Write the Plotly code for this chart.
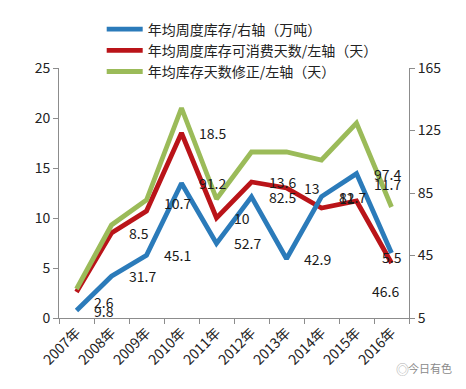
import plotly.graph_objects as go

years = ["2007年", "2008年", "2009年", "2010年", "2011年", "2012年", "2013年", "2014年", "2015年", "2016年"]
weekly_stock = [9.8, 31.7, 45.1, 91.2, 52.7, 82.5, 42.9, 82.7, 97.4, 46.6]        # right axis
consume_days = [2.6, 8.5, 10.7, 18.5, 10, 13.6, 13, 11, 11.7, 5.5]              # left axis
corrected_days = [2.9, 9.3, 11.8, 21.0, 11.9, 16.6, 16.6, 15.8, 19.5, 11.1]     # left axis

names = ["年均周度库存/右轴（万吨）", "年均周度库存可消费天数/左轴（天）", "年均库存天数修正/左轴（天）"]
colors = ["#2B7BBA", "#BA1419", "#9BBB59"]

FONT = "Noto Sans CJK SC, Noto Sans, sans-serif"

fig = go.Figure()
fig.add_trace(go.Scatter(x=years, y=weekly_stock, name=names[0], mode="lines",
                         line=dict(color=colors[0], width=4.8), yaxis="y2", legendgroup="a"))
fig.add_trace(go.Scatter(x=years, y=consume_days, name=names[1], mode="lines",
                         line=dict(color=colors[1], width=4.8), legendgroup="b"))
fig.add_trace(go.Scatter(x=years, y=corrected_days, name=names[2], mode="lines",
                         line=dict(color=colors[2], width=4.8), legendgroup="c"))

# label nudges (pixels) for the data labels
red_dy = [-10, 0, 8, 0, 0, 0, 0, 10, 17, 6]
blue_dy = [0, 0, 0, 0, 0, 0, 0, 0, 0, -38]

annotations = []
for i, (yr, v) in enumerate(zip(years, consume_days)):
    last = i == len(years) - 1
    annotations.append(dict(x=yr, y=v, yref="y", text=f"{v:g}", showarrow=False,
                            xanchor="center" if last else "left", xshift=0 if last else 15,
                            yshift=red_dy[i], font=dict(size=14, color="#1a1a1a", family=FONT)))
for i, (yr, v) in enumerate(zip(years, weekly_stock)):
    last = i == len(years) - 1
    annotations.append(dict(x=yr, y=v, yref="y2", text=f"{v:g}", showarrow=False,
                            xanchor="center" if last else "left", xshift=-6 if last else 15,
                            yshift=blue_dy[i], font=dict(size=14, color="#1a1a1a", family=FONT)))
annotations.append(dict(x=1.06, y=-0.2, xref="paper", yref="paper", text="今日有色",
                        showarrow=False, xanchor="center", yanchor="middle",
                        font=dict(size=11, color="#8a8a8a", family=FONT)))
annotations.append(dict(x=0.98, y=-0.2, xref="paper", yref="paper", text="◎",
                        showarrow=False, xanchor="center", yanchor="middle",
                        font=dict(size=13, color="#b0b0b0", family=FONT)))

axis_common = dict(showline=True, linecolor="#8c8c8c", linewidth=1, ticks="outside", ticklen=5,
                   tickcolor="#8c8c8c", showgrid=False, zeroline=False,
                   tickfont=dict(size=14, color="#222", family=FONT))

fig.update_layout(
    width=458, height=381,
    margin=dict(l=51, r=57, t=60, b=71, autoexpand=False),
    paper_bgcolor="white", plot_bgcolor="white",
    font=dict(family=FONT, color="#222"),
    xaxis=dict(type="category", categoryorder="array", categoryarray=years, range=[-0.5, 9.5],
               tickson="boundaries", tickangle=-45, **axis_common),
    yaxis=dict(range=[0, 25], dtick=5, tick0=0, **axis_common),
    yaxis2=dict(range=[5, 165], dtick=40, tick0=5, overlaying="y", side="right", **axis_common),
    showlegend=True,
    legend=dict(x=0.122, y=1.218, xanchor="left", yanchor="top", bgcolor="rgba(255,255,255,0)",
                font=dict(size=14, color="#222", family=FONT), tracegroupgap=10,
                traceorder="normal", itemwidth=36),
    annotations=annotations,
)

fig.write_html("out.html")
